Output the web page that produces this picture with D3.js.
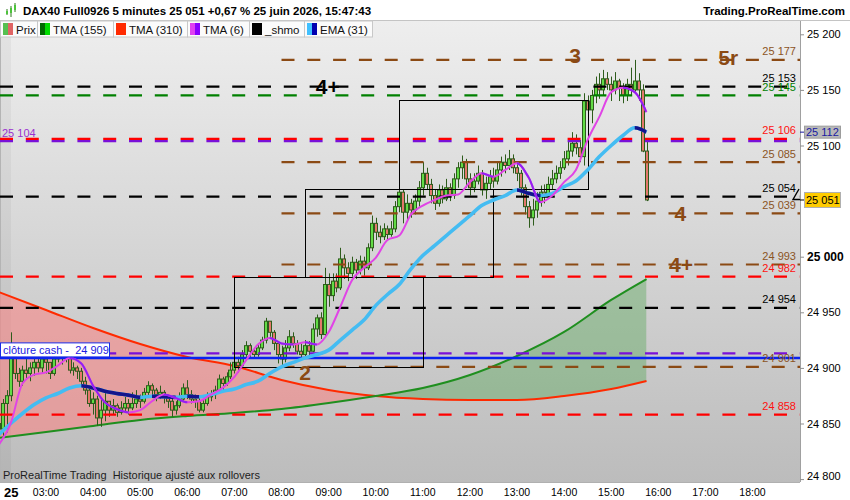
<!DOCTYPE html>
<html>
<head>
<meta charset="utf-8">
<script src="https://cdn.jsdelivr.net/npm/d3@7/dist/d3.min.js"></script>
<style>
html,body{margin:0;padding:0;background:#ffffff;overflow:hidden;}
svg{display:block;font-family:"Liberation Sans",Arial,Helvetica,sans-serif;}
</style>
</head>
<body>
<svg id="chart" width="850" height="500"></svg>
<script>
// ================= DATA =================
// 5-minute candles, first bar at 02:00 (minutes counted from 02:00)
const candleStep = 5;
const firstOpen = 24850;
const closes = [
24845,24868,24875,24915,24895,24888,24898,24895,24900,24905,24900,24908,
24905,24895,24908,24915,24910,24912,24898,24900,24897,24888,24880,24868,
24872,24855,24862,24870,24862,24866,24860,24864,24868,24864,24868,24872,
24870,24878,24884,24880,24876,24878,24874,24870,24862,24866,24872,24882,
24876,24872,24870,24862,24868,24874,24876,24880,24890,24886,24892,24898,
24905,24902,24912,24920,24915,24912,24918,24925,24942,24932,24922,24912,
24908,24918,24928,24922,24915,24912,24920,24915,24935,24945,24930,24975,
24965,24978,24972,24998,24990,24985,24995,24988,24996,24990,25008,25030,
25022,25018,25025,25020,25025,25045,25058,25040,25048,25042,25050,25062,
25075,25065,25055,25048,25060,25052,25062,25055,25070,25080,25085,25070,
25062,25068,25075,25060,25066,25072,25068,25078,25085,25082,25088,25080,
25075,25062,25045,25035,25042,25050,25058,25055,25065,25070,25075,25080,
25088,25095,25102,25098,25090,25140,25132,25145,25155,25150,25160,25155,
25150,25158,25152,25145,25155,25150,25158,25150,25095,25051];
const highs = [
24870,24872,24880,24932,24922,24900,24902,24908,24905,24910,24912,24912,
24912,24902,24915,24920,24918,24920,24914,24905,24902,24900,24892,24883,
24878,24875,24872,24878,24870,24872,24868,24870,24874,24872,24878,24880,
24876,24882,24888,24886,24882,24884,24880,24876,24872,24870,24878,24886,
24889,24880,24876,24874,24872,24878,24880,24884,24894,24892,24896,24905,
24910,24910,24916,24924,24922,24918,24922,24928,24945,24940,24934,24922,
24920,24925,24934,24932,24925,24922,24925,24924,24940,24948,24950,24990,
24985,24985,24985,25008,25002,24995,25000,24998,25001,25000,25012,25037,
25035,25028,25030,25028,25032,25050,25062,25060,25056,25052,25056,25068,
25085,25080,25070,25060,25065,25064,25070,25066,25075,25085,25091,25088,
25075,25075,25082,25078,25072,25078,25080,25085,25090,25092,25096,25092,
25086,25078,25065,25050,25052,25058,25064,25065,25072,25078,25082,25086,
25095,25105,25112,25110,25105,25147,25145,25150,25162,25165,25168,25166,
25162,25166,25160,25156,25160,25170,25177,25165,25155,25106];
const lows = [
24835,24838,24842,24870,24890,24883,24884,24890,24888,24893,24896,24895,
24895,24890,24893,24905,24903,24905,24895,24893,24890,24885,24876,24865,
24858,24848,24847,24852,24856,24858,24856,24858,24860,24858,24862,24864,
24864,24868,24874,24874,24870,24872,24868,24864,24856,24858,24864,24870,
24872,24868,24864,24860,24860,24866,24870,24872,24878,24880,24884,24890,
24895,24896,24900,24910,24910,24908,24910,24916,24922,24928,24916,24904,
24900,24905,24915,24918,24912,24908,24910,24910,24914,24928,24926,24928,
24955,24960,24968,24970,24980,24978,24982,24980,24984,24983,24988,25005,
25015,25012,25015,25015,25018,25022,25040,25030,25032,25035,25038,25045,
25055,25060,25048,25042,25045,25048,25050,25050,25052,25062,25070,25062,
25055,25058,25065,25055,25052,25060,25062,25065,25072,25075,25078,25075,
25068,25055,25038,25026,25028,25035,25045,25048,25052,25060,25066,25070,
25078,25082,25090,25092,25085,25082,25125,25120,25138,25142,25145,25150,
25140,25146,25140,25138,25140,25145,25148,25140,25094,25050];

// indicator samples every 15 minutes from 02:00 to 15:45
const fastStep = 15;
const tma6 = [24831,24850,24886,24894,24896,24902,24909,24904,24884,24869,24863,24860,
24862,24870,24876,24873,24869,24870,24876,24882,24892,24907,24921,24927,
24922,24921,24923,24921,24932,24955,24979,24990,24999,25015,25019,25038,
25046,25051,25055,25056,25067,25075,25072,25078,25084,25071,25049,25055,
25067,25078,25105,25126,25148,25152,25148,25130];
const ema31 = [24840,24850,24859,24867,24873,24877,24882,24884,24882,24879,24877,24875.5,
24873.5,24874.5,24874,24873.5,24874.5,24874,24876,24879,24881,24885,24888,24895,
24901,24905,24909,24912,24916,24925,24934,24943,24956,24966,24975,24989,
25001,25010,25019,25028,25037,25046,25051,25055,25060,25057,25055,25057,
25063,25068,25078,25090,25100,25109,25116,25112];

// slow moving averages (minutes after 02:00)
const slowTimes = [0,60,120,180,240,300,360,420,480,540,600,660,720,780,825];
const tma155 = [24837,24842.4,24847.8,24853.2,24856.7,24859.4,24863,24868.4,24874.7,24881.9,24893.6,24910.7,24932.3,24961.1,24979.9];
const tma310 = [24968.2,24952.1,24935.9,24921.5,24909.8,24901.7,24889.2,24880.2,24874.7,24872,24871.1,24871.1,24874.7,24881,24888.2];

// horizontal "_shmo" levels
const levelValues = [25177,25153,25145,25104,25106,25085,25054,25039,24993,24982,24954,24913,24901,24858];
const levelKinds  = ["brown","black","green","purple","red","brown","black","brown","brown","red","black","purple","brown","red"];
const levelStarts = [360,0,0,0,0,360,0,360,360,0,0,0,360,0];
const levelLabels = ["25 177","25 153","25 145","","25 106","25 085","25 054","25 039","24 993","24 982","24 954","","24 901","24 858"];
const cashClose = 24909;
const cashLabel = "clôture cash -  24 909";
const leftLabel = "25 104";

// rectangles (time range, price range)
const boxT0 = [300,390,510], boxT1 = [540,630,750];
const boxP0 = [24901,24982,25061], boxP1 = [24982,25061,25141];

// wave labels
const waveText   = ["2","3","4","4+","5r","4+"];
const waveTimes  = [390,734,868,869,929,419];
const wavePrices = [24896,25181,25039,24993,25179,25153];
const waveKind   = ["brown","brown","brown","brown","brown","black"];

const yTicks = [25200,25150,25100,25000,24950,24900,24850,24800];
const hourLabels = ["03:00","04:00","05:00","06:00","07:00","08:00","09:00","10:00","11:00","12:00","13:00","14:00","15:00","16:00","17:00","18:00"];
const lastPrice = 25051, emaLast = 25112;

const legendNames = ["Prix","TMA (155)","TMA (310)","TMA (6)","_shmo","EMA (31)"];
const legendColA  = ["#55c050","#006a00","#ff2a00","#e040f0","#000000","#40c0ff"];
const legendColB  = ["#e06464","#00dd00","#ff2a00","#8a00ff","#000000","#0000b0"];

// ================= DRAW =================
const W = 850, H = 500;
const P = {l:0, r:800, t:21, b:482};
const x = d3.scaleLinear().domain([0,1020]).range([-1.1, 799.6]);
const y = d3.scaleLinear().domain([24800,25200]).range([479.1, 34.3]);
const loc = d3.formatLocale({decimal:",", thousands:" ", grouping:[3], currency:["","€"]});
const fmt = loc.format(",d");
const colors = {brown:"#8b4a14", black:"#000000", green:"#008000", red:"#ff0000", purple:"#7a10d8"};
const labelColors = {brown:"#8b5424", black:"#000000", green:"#008000", red:"#ff1010", purple:"#9a30d0"};

const svg = d3.select("#chart");
const defs = svg.append("defs");
const bg = defs.append("linearGradient").attr("id","bg").attr("x1",0).attr("y1",0).attr("x2",0).attr("y2",1);
bg.append("stop").attr("offset","0%").attr("stop-color","#eeeeee");
bg.append("stop").attr("offset","100%").attr("stop-color","#bcbcbc");
defs.append("clipPath").attr("id","plotClip").append("rect")
  .attr("x",P.l).attr("y",P.t).attr("width",P.r-P.l).attr("height",P.b-P.t);

svg.append("rect").attr("width",W).attr("height",H).attr("fill","#ffffff");
svg.append("rect").attr("x",P.l).attr("y",P.t).attr("width",P.r-P.l).attr("height",P.b-P.t).attr("fill","url(#bg)");
svg.append("rect").attr("x",0).attr("y",P.t).attr("width",11).attr("height",P.b-P.t).attr("fill","rgba(0,0,0,0.04)");
svg.append("line").attr("x1",0.5).attr("x2",0.5).attr("y1",P.t).attr("y2",P.b).attr("stroke","#b4b4b4");

const g = svg.append("g").attr("clip-path","url(#plotClip)");

// --- fills between TMA(310) and TMA(155)
const slow = slowTimes.map((t,i)=>({t, gv:tma155[i], rv:tma310[i]}));
const cv = d3.curveMonotoneX;
function clipArea(id, y0f, y1f){
  defs.append("clipPath").attr("id",id).append("path")
    .attr("d", d3.area().curve(cv).x(d=>x(d.t)).y0(y0f).y1(y1f)(slow));
}
clipArea("cBelowRed", d=>y(d.rv), ()=>H);
clipArea("cAboveGreen", ()=>0, d=>y(d.gv));
clipArea("cBelowGreen", d=>y(d.gv), ()=>H);
clipArea("cAboveRed", ()=>0, d=>y(d.rv));
g.append("g").attr("clip-path","url(#cBelowRed)").append("rect").attr("clip-path","url(#cAboveGreen)")
  .attr("x",0).attr("y",0).attr("width",P.r).attr("height",H).attr("fill","rgba(255,125,125,0.52)");
g.append("g").attr("clip-path","url(#cBelowGreen)").append("rect").attr("clip-path","url(#cAboveRed)")
  .attr("x",0).attr("y",0).attr("width",P.r).attr("height",H).attr("fill","rgba(70,160,70,0.36)");

// --- slow lines
const slowLine = f => d3.line().curve(cv).x(d=>x(d.t)).y(d=>y(f(d)))(slow);
g.append("path").attr("d",slowLine(d=>d.rv)).attr("fill","none").attr("stroke","#ff2a00").attr("stroke-width",2);
g.append("path").attr("d",slowLine(d=>d.gv)).attr("fill","none").attr("stroke","#1f8f1f").attr("stroke-width",2);

// --- candles
const candles = closes.map((c,i)=>({t:i*candleStep, o: i ? closes[i-1] : firstOpen, h:highs[i], l:lows[i], c}));
const cg = g.append("g");
candles.forEach(d=>{
  const r = Math.round(x(d.t));
  const hi = Math.max(d.h,d.o,d.c), lo = Math.min(d.l,d.o,d.c);
  cg.append("line").attr("x1",r+0.5).attr("x2",r+0.5).attr("y1",y(hi)).attr("y2",y(lo))
    .attr("stroke","#2e5c1c").attr("stroke-width",1);
  const top = y(Math.max(d.o,d.c)), bot = y(Math.min(d.o,d.c));
  cg.append("rect").attr("x",r-1.5).attr("y",top).attr("width",3).attr("height",Math.max(1,bot-top))
    .attr("fill", d.c>=d.o ? "#62dc46" : "#e4786c").attr("stroke","#2e5c1c").attr("stroke-width",1);
});

// --- horizontal levels
levelValues.forEach((v,i)=>{
  const yy = y(v);
  const k = levelKinds[i];
  g.append("line").attr("x1",Math.max(P.l,x(levelStarts[i]))).attr("x2",P.r).attr("y1",yy).attr("y2",yy)
    .attr("stroke",colors[k]).attr("stroke-width",2.2).attr("stroke-dasharray","13,12.8");
});
g.append("line").attr("x1",P.l).attr("x2",P.r).attr("y1",y(cashClose)).attr("y2",y(cashClose))
  .attr("stroke","#0a22f0").attr("stroke-width",2.5);

// --- boxes
boxT0.forEach((t,i)=>{
  const x0 = Math.round(x(t))+0.5, x1 = Math.round(x(boxT1[i]))+0.5;
  const y0 = Math.round(y(boxP1[i]))+0.5, y1 = Math.round(y(boxP0[i]))+0.5;
  g.append("rect").attr("x",x0).attr("y",y0).attr("width",x1-x0).attr("height",y1-y0)
    .attr("fill","none").attr("stroke","#000").attr("stroke-width",1);
});

// --- slope-coloured lines
function slopeLine(id, vals, upC, dnC, w){
  const pts = vals.map((v,i)=>[x(i*fastStep), y(v)]);
  const d = d3.line().curve(d3.curveMonotoneX)(pts);
  g.append("path").attr("d",d).attr("fill","none").attr("stroke",upC).attr("stroke-width",w).attr("stroke-linejoin","round");
  const cp = defs.append("clipPath").attr("id",id);
  for(let i=0;i<vals.length-1;i++){
    if(vals[i+1] < vals[i]) cp.append("rect").attr("x",pts[i][0]).attr("y",0).attr("width",pts[i+1][0]-pts[i][0]).attr("height",H);
  }
  g.append("g").attr("clip-path",`url(#${id})`).append("path").attr("d",d).attr("fill","none")
    .attr("stroke",dnC).attr("stroke-width",w).attr("stroke-linejoin","round");
}
slopeLine("cEma", ema31, "#44bcf2", "#14148c", 3.6);
slopeLine("cTma6", tma6, "#e044e6", "#9420f2", 2);

// --- level labels
levelValues.forEach((v,i)=>{
  if(!levelLabels[i]) return;
  g.append("text").attr("x",796).attr("y",y(v)-4.5).attr("text-anchor","end")
    .attr("font-size",11).attr("fill",labelColors[levelKinds[i]]).text(levelLabels[i]);
});
g.append("text").attr("x",2).attr("y",y(25104)-4).attr("font-size",11).attr("fill","#9a30d0").text(leftLabel);

// cut-off marker near last price
g.append("path").attr("d","M799,189 L793,199.5 L800,199.5").attr("fill","none").attr("stroke","#000").attr("stroke-width",1.4);

// --- wave labels
waveText.forEach((t,i)=>{
  g.append("text").attr("x",x(waveTimes[i])).attr("y",y(wavePrices[i])).attr("text-anchor","middle")
    .attr("dominant-baseline","central").attr("font-size",21).attr("font-weight","bold")
    .attr("fill", waveKind[i]==="black" ? "#000" : "#8b4a14").text(t);
});

// --- clôture cash label
const cy = y(cashClose);
svg.append("rect").attr("x",0.5).attr("y",cy-15).attr("width",109).attr("height",14)
  .attr("fill","#ffffff").attr("stroke","#1a2ae8").attr("stroke-width",1);
svg.append("text").attr("x",3).attr("y",cy-4.3).attr("font-size",11).attr("fill","#1a20e0")
  .style("white-space","pre").text(cashLabel);

// --- bottom-left credit
svg.append("text").attr("x",3).attr("y",479).attr("font-size",11).attr("fill","#1e1e1e")
  .style("white-space","pre").text("ProRealTime Trading  Historique ajusté aux rollovers");

// --- right axis
svg.append("line").attr("x1",P.r+0.5).attr("x2",P.r+0.5).attr("y1",P.t).attr("y2",P.b).attr("stroke","#a0a0a0");
const ax = svg.append("g").attr("transform",`translate(${P.r},0)`)
  .call(d3.axisRight(y).tickValues(yTicks).tickSize(4).tickSizeOuter(0).tickFormat(fmt));
ax.select(".domain").remove();
ax.selectAll(".tick line").attr("stroke","#909090");
ax.selectAll(".tick text").attr("x",7).attr("fill","#000").attr("font-size",11)
  .attr("font-family","Liberation Sans, Arial, sans-serif");
ax.selectAll(".tick text").filter(d=>d===25000).attr("font-weight","bold").attr("font-size",12);
ax.selectAll(".tick text").filter(d=>d===24800).attr("y",-3);

// highlighted values
function tag(v, fill, stroke, txtC, h){
  const yy = y(v);
  svg.append("line").attr("x1",P.r).attr("x2",P.r+4).attr("y1",yy).attr("y2",yy).attr("stroke",txtC);
  svg.append("rect").attr("x",804.5).attr("y",yy-h/2).attr("width",36).attr("height",h)
    .attr("fill",fill).attr("stroke",stroke);
  svg.append("text").attr("x",806).attr("y",yy+4).attr("font-size",11).attr("fill",txtC).text(fmt(v));
}
tag(emaLast, "#b8b8b8", "#9c9c9c", "#1a1aa0", 12);
tag(lastPrice, "#ffcc00", "#b0b0b0", "#000", 15);

// --- x axis band
svg.append("rect").attr("x",0).attr("y",P.b).attr("width",W).attr("height",H-P.b).attr("fill","#ffffff");
svg.append("line").attr("x1",0).attr("x2",P.r).attr("y1",P.b+0.5).attr("y2",P.b+0.5).attr("stroke","#b0b0b0");
svg.append("text").attr("x",4).attr("y",497).attr("font-size",13).attr("font-weight","bold").attr("fill","#000").text("25");
hourLabels.forEach((h,i)=>{
  svg.append("text").attr("x",x((i+1)*60)).attr("y",496).attr("text-anchor","middle")
    .attr("font-size",10.5).attr("fill","#000").text(h);
});

// --- header
svg.append("rect").attr("x",0).attr("y",0).attr("width",W).attr("height",P.t).attr("fill","#ffffff");
svg.append("line").attr("x1",0).attr("x2",W).attr("y1",P.t-0.5).attr("y2",P.t-0.5).attr("stroke","#c4c4c4");
// candle icon
[[6,9,15,11,14],[10,6,17,8,13],[14,3,12,5,10]].forEach(c=>{
  svg.append("line").attr("x1",c[0]+1).attr("x2",c[0]+1).attr("y1",c[1]).attr("y2",c[2]).attr("stroke","#2e7a1c");
  svg.append("rect").attr("x",c[0]).attr("y",c[3]).attr("width",2).attr("height",c[4]-c[3]).attr("fill","#4cc43a");
});
svg.append("text").attr("x",23).attr("y",15).attr("font-size",11.5).attr("font-weight","bold").attr("fill","#000")
  .text("DAX40 Full0926 5 minutes 25 051 +0,67 % 25 juin 2026, 15:47:43");
svg.append("text").attr("x",845).attr("y",15).attr("text-anchor","end").attr("font-size",11.5).attr("font-weight","bold")
  .attr("fill","#000").text("Trading.ProRealTime.com");

// --- legend
const legendEdges = [0,37,113,187,249,304,372];
legendNames.forEach((n,i)=>{
  const bx = legendEdges[i], bw = legendEdges[i+1]-legendEdges[i];
  svg.append("rect").attr("x",bx+0.5).attr("y",P.t).attr("width",bw).attr("height",16)
    .attr("fill","#fbfbfb").attr("stroke","#c8c8c8");
  svg.append("rect").attr("x",bx+3).attr("y",23).attr("width",5).attr("height",12).attr("fill",legendColA[i]);
  svg.append("rect").attr("x",bx+8).attr("y",23).attr("width",5).attr("height",12).attr("fill",legendColB[i]);
  svg.append("text").attr("x",bx+16).attr("y",33.5).attr("font-size",11.5).attr("fill","#111").text(n);
});
</script>
</body>
</html>
